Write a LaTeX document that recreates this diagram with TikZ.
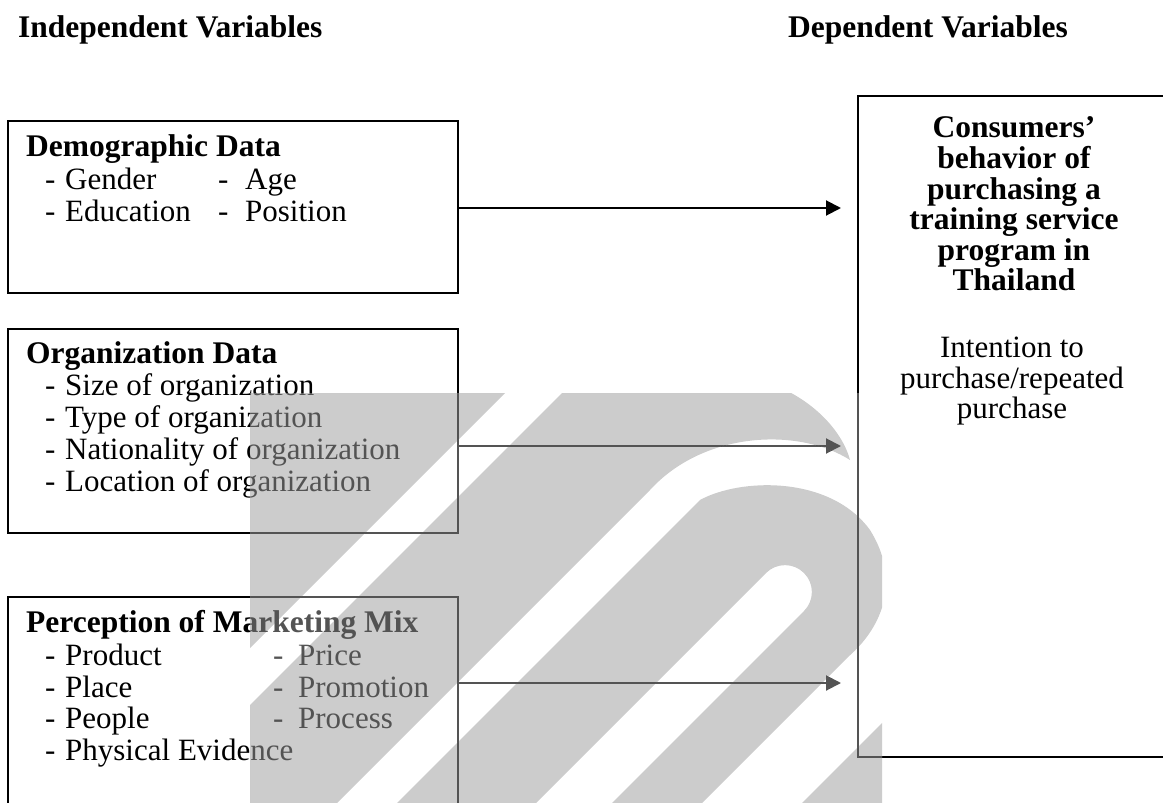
\documentclass[tikz,border=0pt]{standalone}
\usepackage{fontspec}
\setmainfont{Liberation Serif}
\usetikzlibrary{arrows.meta}

\tikzset{
  frame/.style={draw, line width=1.8pt, inner sep=0pt, anchor=north west},
  lbl/.style={anchor=base west, inner sep=0pt, font=\fontsize{31}{32}\selectfont},
  head/.style={lbl, font=\fontsize{31.5}{32}\selectfont\bfseries},
  ctr/.style={lbl, anchor=base},
  ctrhead/.style={head, anchor=base},
  link/.style={line width=2pt, -{Triangle[length=15pt,width=15pt]}},
  wmgray/.style={fill=black!38, fill opacity=0.53},
  wmwhite/.style={fill=white, fill opacity=0.33, even odd rule}
}
% leading dash followed by a fixed gap
\newcommand{\dashto}[1]{\makebox[#1][l]{-}}

% watermark logo bands (pixel units, y downwards)
\def\wmA{(200,380) -- (518,380) -- (200,698) -- cycle}
\def\wmB{(80,875) -- (575,380) -- (760,380) .. controls (810,395) and (842,430) .. (850,460)
  .. controls (800,428) and (705,430) .. (650,490) -- (190,950) -- cycle}
\def\wmC{(290,910) -- (700,500) .. controls (740,478) and (830,475) .. (870,530)
  .. controls (900,578) and (885,625) .. (848,657) -- (595,910) -- (505,910) -- (804,611)
  .. controls (814.5,600.5) and (814.5,583.5) .. (804,573)
  .. controls (793.5,562.5) and (776.5,562.5) .. (766,573) -- (429,910) -- cycle}
\def\wmD{(1000,605) -- (1000,910) -- (695,910) -- cycle}

\begin{document}
\begin{tikzpicture}[x=1pt,y=-1pt]
\useasboundingbox (0,0) rectangle (1163,803);
\clip (0,0) rectangle (1163,803);

% column headings
\node[head] (hIndep) at (18,37) {Independent Variables};
\node[head] (hDep) at (788,37) {Dependent Variables};

% frames
\node[frame, minimum width=450pt, minimum height=172pt] (demo) at (7,120) {};
\node[frame, minimum width=450pt, minimum height=204pt] (org) at (7,328) {};
\node[frame, minimum width=450pt, minimum height=260pt] (mix) at (7,596) {};
\node[frame, minimum width=360pt, minimum height=661pt] (dep) at (857,95) {};

% demographic data
\node[head] (demoHead) at (26,156) {Demographic Data};
\node[lbl] (demoA) at (45,189) {\dashto{20pt}Gender};
\node[lbl] (demoB) at (218,189) {\dashto{27pt}Age};
\node[lbl] (demoC) at (45,221) {\dashto{20pt}Education};
\node[lbl] (demoD) at (218,221) {\dashto{27pt}Position};

% organization data
\node[head] (orgHead) at (26,363) {Organization Data};
\node[lbl] (orgA) at (45,395) {\dashto{20pt}Size of organization};
\node[lbl] (orgB) at (45,427) {\dashto{20pt}Type of organization};
\node[lbl] (orgC) at (45,459) {\dashto{20pt}Nationality of organization};
\node[lbl] (orgD) at (45,491) {\dashto{20pt}Location of organization};

% marketing mix
\node[head] (mixHead) at (26,632) {Perception of Marketing Mix};
\node[lbl] (mixA) at (45,665) {\dashto{20pt}Product};
\node[lbl] (mixB) at (273,665) {\dashto{25pt}Price};
\node[lbl] (mixC) at (45,697) {\dashto{20pt}Place};
\node[lbl] (mixD) at (273,697) {\dashto{25pt}Promotion};
\node[lbl] (mixE) at (45,728) {\dashto{20pt}People};
\node[lbl] (mixF) at (273,728) {\dashto{25pt}Process};
\node[lbl] (mixG) at (45,760) {\dashto{20pt}Physical Evidence};

% dependent variable
\node[ctrhead] (depA) at (1014,137) {Consumers'};
\node[ctrhead] (depB) at (1014,168) {behavior of};
\node[ctrhead] (depC) at (1014,199) {purchasing a};
\node[ctrhead] (depD) at (1014,229) {training service};
\node[ctrhead] (depE) at (1014,260) {program in};
\node[ctrhead] (depF) at (1014,290) {Thailand};
\node[ctr] (depG) at (1012,357) {Intention to};
\node[ctr] (depH) at (1012,388) {purchase/repeated};
\node[ctr] (depI) at (1012,418) {purchase};

% connectors
\coordinate (t1) at (841,208);
\coordinate (t2) at (841,446);
\coordinate (t3) at (841,683);
\draw[link] (demo.east |- t1) -- (t1);
\draw[link] (org.east |- t2) -- (t2);
\draw[link] (mix.east |- t3) -- (t3);

% watermark overlay
\begin{scope}
  \clip (250,393) rectangle (882,810);
  \fill[wmwhite] (250,393) rectangle (882,810) \wmA \wmB \wmC \wmD;
  \fill[wmgray] \wmA;
  \fill[wmgray] \wmB;
  \fill[wmgray] \wmC;
  \fill[wmgray] \wmD;
\end{scope}
\end{tikzpicture}
\end{document}
